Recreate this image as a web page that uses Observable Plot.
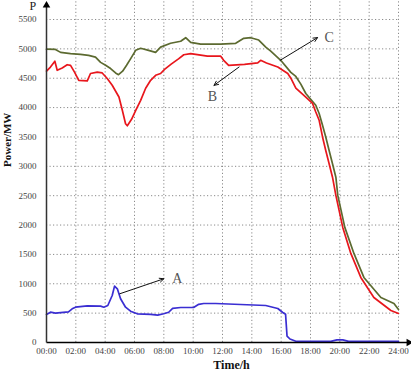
<!DOCTYPE html>
<html>
<head>
<meta charset="utf-8">
<script src="https://cdn.jsdelivr.net/npm/d3@7"></script>
<script src="https://cdn.jsdelivr.net/npm/@observablehq/plot@0.6"></script>
<style>
  html, body { margin: 0; padding: 0; background: #fff; }
  #chart svg { display: block; }
</style>
</head>
<body>
<div id="chart"></div>
<script>
// ---- data (hours, MW) ----
const timeA = [0,0.27,0.61,1.5,1.75,1.98,2.78,3.69,3.91,4.18,4.48,4.64,4.83,5.05,5.39,5.73,6.19,7.1,7.58,7.99,8.33,8.6,9.15,10.03,10.38,10.72,11.54,13.24,14.95,15.77,16.11,16.3,16.4,16.6,17.0,19.39,19.8,20.2,20.6,24];
const powerA = [477,516,500,523,574,601,625,619,601,630,800,960,915,745,601,533,489,480,465,490,515,580,596,596,650,664,664,647,630,579,511,480,110,60,20,20,45,45,20,20];

const timeB = [0,0.27,0.57,0.73,1.07,1.41,1.64,1.91,2.2,2.78,3.0,3.46,3.8,4.14,4.48,4.94,5.17,5.39,5.51,5.8,6.1,6.42,6.76,7.1,7.44,7.78,8.05,8.5,9.0,9.36,9.83,10.97,11.88,12.08,12.42,13.5,14.4,14.6,15.0,15.77,16.45,16.66,17.0,17.68,18.14,18.36,18.59,18.82,19.04,19.27,19.5,19.73,20.2,20.75,21.43,22.32,23.48,24];
const powerB = [4620,4690,4790,4635,4675,4730,4720,4605,4465,4455,4580,4605,4590,4495,4380,4180,3955,3725,3690,3800,3960,4124,4330,4465,4550,4580,4650,4740,4830,4900,4920,4875,4875,4805,4720,4735,4760,4805,4760,4690,4580,4500,4330,4180,4070,3925,3785,3500,3270,3045,2815,2505,1960,1517,1108,767,545,494];

const timeC = [0,0.61,0.96,1.64,2.32,2.87,3.34,3.69,4.03,4.37,4.71,4.91,5.19,5.46,5.73,6.08,6.42,6.96,7.44,7.78,8.46,9.15,9.49,9.83,10.51,11.88,12.9,13.45,13.92,14.47,14.95,15.29,15.97,16.66,17.0,17.34,17.68,18.36,18.59,18.82,19.04,19.27,19.5,19.73,19.86,20.34,20.96,21.64,22.8,23.69,24];
const powerC = [4995,4990,4940,4920,4905,4890,4860,4770,4720,4665,4590,4560,4620,4720,4830,4975,5010,4975,4940,5030,5095,5130,5190,5110,5080,5080,5095,5180,5190,5150,5030,4960,4805,4600,4530,4400,4240,4040,3900,3700,3500,3270,3045,2815,2505,1960,1517,1108,767,665,560];

const xTicks = [0,2,4,6,8,10,12,14,16,18,20,22,24];
const yTicks = [0,500,1000,1500,2000,2500,3000,3500,4000,4500,5000,5500];

// annotation labels and arrows (data coordinates)
const labelNames = ["A", "B", "C"];
const labelTime  = [8.92, 11.31, 19.27];
const labelPower = [1085, 4192, 5192];
const arrowFromTime  = [5.0, 13.13, 15.93];
const arrowFromPower = [830, 4691, 4805];
const arrowToTime    = [8.0, 11.42, 18.48];
const arrowToPower   = [1085, 4379, 5192];

// ---- build tables ----
const mk = (t, p) => t.map((d, i) => ({t: d, p: p[i]}));
const serA = mk(timeA, powerA), serB = mk(timeB, powerB), serC = mk(timeC, powerC);
const labels = labelNames.map((n, i) => ({n, t: labelTime[i], p: labelPower[i]}));
const arrows = labelNames.map((n, i) => ({x1: arrowFromTime[i], y1: arrowFromPower[i], x2: arrowToTime[i], y2: arrowToPower[i]}));

const xEnd = 24.7, yEnd = 5740, gridTop = 5830;
const fmt = d => String(d).padStart(2, "0") + ":00";
const serif = "Liberation Serif, DejaVu Serif, serif";

const chart = Plot.plot({
  width: 411,
  height: 376,
  marginLeft: 46,
  marginRight: 13,
  marginTop: 19,
  marginBottom: 34,
  style: {fontFamily: serif, fontSize: "9px", background: "#fff"},
  x: {domain: [0, 24]},
  y: {domain: [0, 5500]},
  marks: [
    Plot.ruleX(xTicks.filter(d => d > 0), {y1: 0, y2: gridTop, stroke: "#8a8a8a", strokeDasharray: "1.2,2.3", strokeWidth: 1}),
    Plot.ruleY(yTicks.filter(d => d > 0), {x1: 0, x2: 24, stroke: "#8a8a8a", strokeDasharray: "1.2,2.3", strokeWidth: 1}),
    Plot.axisX({ticks: xTicks, tickSize: 0, tickPadding: 5, tickFormat: fmt, label: null, color: "#444", fontFamily: serif, fontSize: 9}),
    Plot.axisY({ticks: yTicks, tickSize: 0, tickPadding: 10, tickFormat: d => String(d), label: null, color: "#444", fontFamily: serif, fontSize: 9}),
    Plot.line(serC, {x: "t", y: "p", stroke: "#5c6a30", strokeWidth: 1.7}),
    Plot.line(serB, {x: "t", y: "p", stroke: "#e8161c", strokeWidth: 1.7}),
    Plot.line(serA, {x: "t", y: "p", stroke: "#3a2ed2", strokeWidth: 1.7}),
    // axes lines and arrowheads
    Plot.link([0], {x1: 0, x2: xEnd, y1: 0, y2: 0, stroke: "#000", strokeWidth: 1.5}),
    Plot.link([0], {x1: 0, x2: 0, y1: 0, y2: yEnd, stroke: "#333", strokeWidth: 1.5}),
    Plot.dot([0], {x: xEnd, y: 0, symbol: "triangle2", r: 3.6, fill: "#000", rotate: 90}),
    Plot.dot([0], {x: 0, y: yEnd, symbol: "triangle2", r: 3.6, fill: "#000"}),
    // annotations
    Plot.arrow(arrows, {x1: "x1", y1: "y1", x2: "x2", y2: "y2", stroke: "#111", strokeWidth: 1, headLength: 7, headAngle: 50}),
    Plot.text(labels, {x: "t", y: "p", text: "n", fontSize: 14, fill: "#555", fontFamily: serif}),
    // titles
    Plot.text(["P"], {frameAnchor: "top-left", dx: -17, dy: -18, lineAnchor: "top", text: d => d, fontSize: 12, fill: "#222", fontFamily: serif}),
    Plot.text(["Power/MW"], {frameAnchor: "left", dx: -39.5, dy: -14, rotate: -90, text: d => d, fontSize: 11, fontWeight: "bold", fill: "#111", fontFamily: serif}),
    Plot.text(["Time/h"], {frameAnchor: "bottom", dx: 9, dy: 26, lineAnchor: "bottom", text: d => d, fontSize: 12, fontWeight: "bold", fill: "#111", fontFamily: serif})
  ]
});
document.getElementById("chart").appendChild(chart);
</script>
</body>
</html>
